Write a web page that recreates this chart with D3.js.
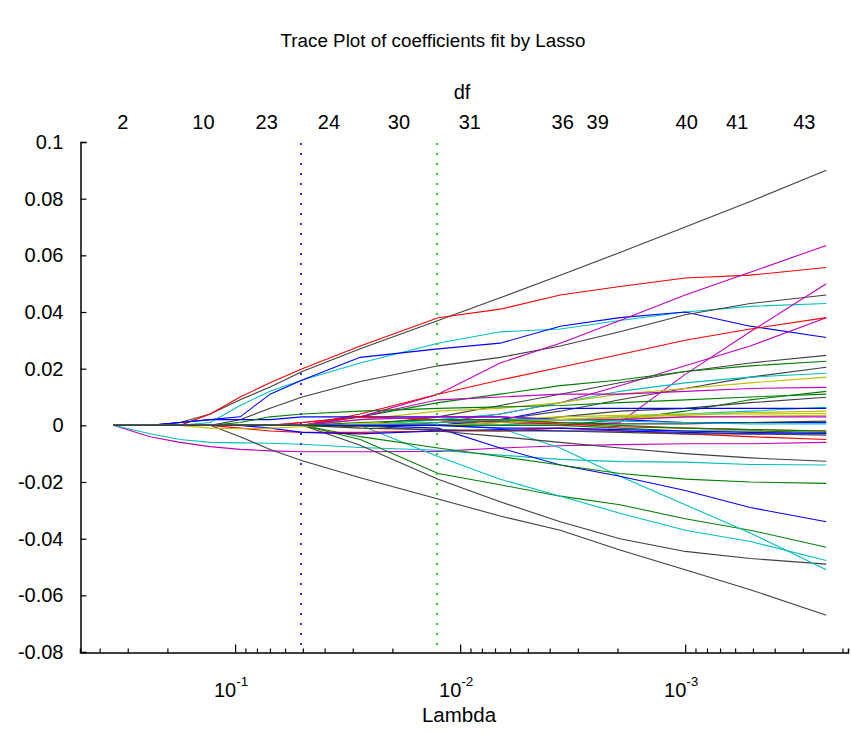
<!DOCTYPE html>
<html><head><meta charset="utf-8">
<script src="https://cdn.jsdelivr.net/npm/d3@7"></script>
<style>
body{margin:0;background:#fff;}
svg{display:block;font-family:"Liberation Sans",Arial,sans-serif;}
</style></head>
<body><svg id="chart" width="851" height="733"></svg>
<script>
// ---------- DATA ----------
const titleText = "Trace Plot of coefficients fit by Lasso";
const xLabelText = "Lambda";
const topLabelText = "df";
// lambda values at which coefficients were read
const lambdaGrid = [0.348, 0.239, 0.1756, 0.129, 0.095, 0.0699, 0.0503, 0.0278, 0.01253, 0.00664, 0.00359, 0.00195, 0.001, 0.000514, 0.000236];
// coefficient paths (one array per predictor)
const s01 = [0,0,.001,.004,.009,.0135,.019,.027,.037,.045,.053,.061,.070,.079,.090];
const s02 = [0,0,0,.004,.010,.015,.020,.028,.038,.041,.046,.049,.052,.053,.0557];
const s03 = [0,0,0,.001,.007,.012,.016,.022,.029,.033,.034,.037,.040,.042,.043];
const s04 = [0,0,.001,.002,.003,.011,.016,.024,.027,.029,.035,.038,.040,.035,.031];
const s05 = [0,0,0,0,.002,.006,.010,.0155,.021,.024,.028,.033,.039,.043,.046];
const s06 = [0,0,0,0,0,0,.001,.003,.011,.022,.029,.037,.046,.054,.0635];
const s07 = [0,0,0,0,0,0,0,0,0,0,0,.001,.018,.033,.050];
const s08 = [0,0,0,0,0,0,0,0,.001,.004,.008,.014,.021,.028,.038];
const s09 = [0,0,0,0,0,0,0,.004,.011,.016,.0205,.025,.030,.034,.038];
const s10 = [0,0,0,0,0,0,0,0,.003,.007,.011,.015,.019,.022,.0247];
const s11 = [0,0,0,0,0,0,0,.003,.008,.011,.014,.016,.019,.021,.0226];
const s12 = [0,0,0,0,0,0,0,0,0,.002,.005,.009,.013,.017,.0205];
const s13 = [0,0,0,0,0,0,0,0,.002,.004,.008,.012,.015,.017,.0184];
const s14 = [0,0,0,0,0,0,0,.002,.005,.006,.008,.011,.013,.015,.017];
const s15 = [0,0,0,0,0,0,0,.003,.009,.010,.011,.011,.012,.013,.0134];
const s16 = [0,0,0,0,0,0,0,0,0,0,0,.002,.005,.009,.012];
const s17 = [0,0,0,0,0,0,0,0,0,.001,.003,.005,.006,.008,.0099];
const s18 = [0,0,0,0,0,0,0,0,0,0,.002,.003,.004,.005,.0064];
const s19 = [0,0,0,0,0,0,0,0,.001,.002,.003,.0035,.004,.004,.0042];
const s20 = [0,0,0,0,0,0,0,0,0,.002,.006,.006,.006,.006,.006];
const s21 = [0,0,.001,.002,.002,.002,.003,.003,.003,.003,.002,.002,.001,.001,.001];
const s22 = [0,0,0,0,.001,.003,.004,.005,.006,.0065,.007,.008,.009,.010,.011];
const s23 = [0,-.004,-.006,-.0075,-.0085,-.009,-.0093,-.0093,-.0092,-.008,-.0072,-.0068,-.0065,-.0065,-.006];
const s24 = [0,-.003,-.005,-.006,-.0062,-.0063,-.0067,-.0078,-.0088,-.0105,-.012,-.0128,-.013,-.0138,-.014];
const s25 = [0,0,0,0,-.004,-.0085,-.0125,-.0185,-.026,-.032,-.037,-.044,-.051,-.058,-.067];
const s26 = [0,0,0,0,0,0,0,-.007,-.019,-.027,-.034,-.040,-.0445,-.047,-.049];
const s27 = [0,0,0,0,0,0,0,-.005,-.017,-.021,-.025,-.028,-.033,-.037,-.043];
const s28 = [0,0,0,0,0,0,0,0,-.011,-.019,-.025,-.031,-.037,-.041,-.0477];
const s29 = [0,0,0,0,0,0,0,0,0,-.001,-.008,-.018,-.028,-.038,-.051];
const s30 = [0,0,0,0,0,0,0,0,-.001,-.008,-.014,-.018,-.023,-.029,-.034];
const s31 = [0,0,0,0,0,0,0,-.004,-.008,-.011,-.014,-.017,-.019,-.020,-.0205];
const s32 = [0,0,0,0,0,0,0,0,-.002,-.004,-.006,-.008,-.010,-.0115,-.0127];
const s33 = [0,0,0,0,-.001,-.002,-.0025,-.0025,-.002,-.002,-.001,-.002,-.003,-.004,-.005];
const s34 = [0,0,0,0,0,-.001,-.0025,-.003,-.002,-.0015,-.002,-.002,-.0025,-.003,-.003];
const s35 = [0,0,0,0,0,0,0,0,0,0,0,-.001,-.002,-.002,-.0025];
const s36 = [0,0,0,-.001,-.0012,-.001,-.0005,.0005,.001,.0015,.002,.0025,.003,.0032,.0035];
const s37 = [0,0,0,0,0,0,0,-.0005,.001,.0015,.001,.0005,.0005,.001,.0015];
const s38 = [0,0,0,0,0,0,.001,.003,.002,.001,.0005,-.0005,-.001,-.0015,-.002];
const s39 = [0,0,0,0,0,0,0,.002,.003,.003,.002,.002,.003,.003,.003];
const s40 = [0,0,0,0,0,0,0,0,.001,.002,.002,.0015,.001,.0005,.0005];
const s41 = [0,0,0,0,0,0,0,0,0,.001,.002,.003,.0035,.0045,.005];
const s42 = [0,0,0,0,0,0,0,0,0,-.001,-.001,-.0015,-.002,-.0025,-.0028];
const s43 = [0,0,0,0,0,0,0,.001,.002,.002,.001,0,-.001,-.0015,-.002];
const s44 = [0,0,0,0,0,0,0,-.001,-.0015,-.002,-.002,-.0025,-.003,-.003,-.0035];
const seriesValues = [s01,s02,s03,s04,s05,s06,s07,s08,s09,s10,s11,s12,s13,s14,s15,s16,s17,s18,s19,s20,s21,s22,
  s23,s24,s25,s26,s27,s28,s29,s30,s31,s32,s33,s34,s35,s36,s37,s38,s39,s40,s41,s42,s43,s44];
// top axis: degrees of freedom labels and the lambdas where they sit
const dfLabels = ["2","10","23","24","30","31","36","39","40","41","43"];
const dfLambda = [0.317, 0.139, 0.0728, 0.0385, 0.0188, 0.0091, 0.00352, 0.00246, 0.00099, 0.00059, 0.000297];
// reference lambdas drawn as dotted vertical lines (1SE, MinMSE)
const refLambda = [0.0507, 0.0127];
// y ticks
const yTicks = [-0.08,-0.06,-0.04,-0.02,0,0.02,0.04,0.06,0.08,0.1];
const xMajorTicks = [1e-1, 1e-2, 1e-3];
const xMajorExp = ["-1","-2","-3"];

// ---------- STYLE ----------
const seriesColorKey = ["k","r","c","b","k","m","m","m","r","k","g","k","c","y","m","g","k","c","y","b","b","g",
  "m","c","k","k","g","c","c","b","g","k","r","b","g","y","k","r","m","c","y","b","g","k"];
const palette = {b:"#0000ff", g:"#008000", r:"#ff0000", c:"#00bfbf", m:"#bf00bf", y:"#bfbf00", k:"#404040"};
const refColors = ["#3030ff", "#20d020"];

// ---------- DRAW ----------
const svg = d3.select("#chart");
const L = 80, R = 848, T = 142, B = 652;
const x = d3.scaleLog().domain([0.489, 1.89e-4]).range([L, R]);
const y = d3.scaleLinear().domain([-0.08, 0.1]).range([B, T]);
const fontFam = "Liberation Sans, Arial, sans-serif";

// title
svg.append("text").attr("x", 433).attr("y", 47).attr("text-anchor","middle")
  .style("font-size","18.8px").text(titleText);

// lines
const line = d3.line().x((d,i)=>x(lambdaGrid[i])).y(d=>y(d));
svg.append("g").selectAll("path").data(seriesValues).join("path")
  .attr("d", d=>line(d)).attr("fill","none")
  .attr("stroke",(d,i)=>palette[seriesColorKey[i]]).attr("stroke-width",1.1);

// reference dotted lines
svg.append("g").selectAll("line").data(refLambda).join("line")
  .attr("x1", d=>Math.round(x(d))).attr("x2", d=>Math.round(x(d)))
  .attr("y1", T+1).attr("y2", B)
  .attr("stroke",(d,i)=>refColors[i]).attr("stroke-width",2)
  .attr("stroke-dasharray","2,8");

// left axis
const yAxis = d3.axisLeft(y).tickValues(yTicks).tickSize(-6).tickPadding(17)
  .tickFormat(d=>String(+d.toFixed(2)));
const gy = svg.append("g").attr("transform",`translate(${L+0.5},0)`).call(yAxis);
gy.select(".domain").attr("stroke","#000").attr("stroke-width",1.5);
gy.selectAll(".tick line").attr("stroke","#000").attr("stroke-width",1.2);
gy.selectAll(".tick text").style("font-size","20px").attr("fill","#000").attr("font-family",fontFam);

// bottom axis minor ticks
const minor = [];
for (let e=-4; e<=0; e++) for (let k=2;k<=9;k++){ const v=k*Math.pow(10,e); if (v<=0.489 && v>=1.89e-4) minor.push(v); }
const gxMinor = svg.append("g").attr("transform",`translate(0,${B+0.5})`)
  .call(d3.axisBottom(x).tickValues(minor).tickSize(-4).tickFormat(""));
gxMinor.select(".domain").attr("stroke","#000").attr("stroke-width",1.5);
gxMinor.selectAll(".tick line").attr("stroke","#000").attr("stroke-width",1.2);
const gxMajor = svg.append("g").attr("transform",`translate(0,${B+0.5})`)
  .call(d3.axisBottom(x).tickValues(xMajorTicks).tickSize(-8).tickFormat(""));
gxMajor.select(".domain").remove();
gxMajor.selectAll(".tick line").attr("stroke","#000").attr("stroke-width",1.2);
// major labels 10^n
const lab = svg.append("g").selectAll("text").data(xMajorTicks).join("text")
  .attr("x", d=>x(d)-4).attr("y", B+45).attr("text-anchor","middle").style("font-size","20px");
lab.append("tspan").text("10");
lab.append("tspan").attr("dy",-11).style("font-size","13.5px").text((d,i)=>xMajorExp[i]);

svg.append("text").attr("x", 459).attr("y", 722).attr("text-anchor","middle")
  .style("font-size","20.5px").text(xLabelText);

// top df labels
const gTop = svg.append("g").attr("transform",`translate(0,${T-13})`)
  .call(d3.axisTop(x).tickValues(dfLambda).tickSize(0).tickPadding(0).tickFormat((d,i)=>dfLabels[i]));
gTop.select(".domain").remove();
gTop.selectAll(".tick text").style("font-size","20px").attr("fill","#000").attr("font-family",fontFam);
svg.append("text").attr("x", 462).attr("y", 99).attr("text-anchor","middle")
  .style("font-size","20px").text(topLabelText);
</script></body></html>
